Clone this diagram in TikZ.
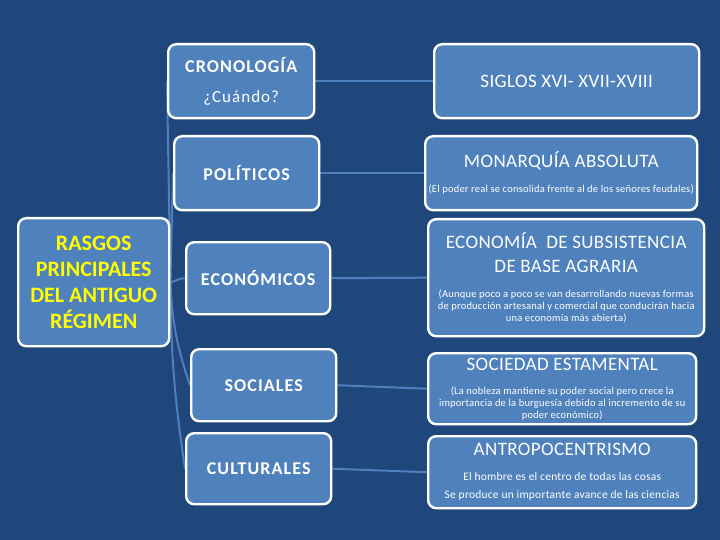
\documentclass[tikz,border=0pt]{standalone}
\usepackage{fontspec}
\setmainfont{Carlito}
\newfontfamily\midf[LetterSpace=6]{Carlito}
\newfontfamily\ttlf[LetterSpace=2]{Carlito}
\newfontfamily\subf[LetterSpace=2]{Carlito}
\usetikzlibrary{backgrounds}
\definecolor{bgc}{HTML}{1F477B}
\definecolor{boxfill}{HTML}{4F81BD}
\definecolor{linkc}{HTML}{4F7FBD}
\definecolor{ylw}{HTML}{FFFF00}
\tikzset{
  card/.style={draw=white, line width=2.4pt, fill=boxfill, rounded corners=8pt,
    anchor=north west, inner sep=0pt, text=white, align=center,
    font=\fontsize{10.5}{12}\selectfont},
  linkline/.style={draw=linkc, line width=2pt},
  midtxt/.style={font=\midf\bfseries\fontsize{18}{22}\selectfont},
  ttl/.style={font=\ttlf\fontsize{19}{23}\selectfont}
}
\newcommand{\ttlline}{\ttlf\fontsize{19}{12}\selectfont}
\newcommand{\subline}{\subf\fontsize{10.5}{12}\selectfont}
\begin{document}
\begin{tikzpicture}[x=1pt,y=-1pt]
\useasboundingbox (0,0) rectangle (720,540);
% left node
\node[card, minimum width=151pt, minimum height=128pt, text=ylw,
  font=\bfseries\fontsize{22}{26}\selectfont] (rasgos) at (17,217)
  {RASGOS\\PRINCIPALES\\DEL ANTIGUO\\RÉGIMEN};
% middle column
\node[card, minimum width=146pt, minimum height=74pt] (crono) at (167,43)
  {\midf\bfseries\fontsize{18}{12}\selectfont CRONOLOGÍA\\[18pt]
   \midf\fontsize{17}{12}\selectfont ¿Cuándo?};
\node[card, midtxt, minimum width=145pt, minimum height=74pt] (pol) at (173,135) {POLÍTICOS};
\node[card, midtxt, minimum width=144pt, minimum height=72pt] (eco) at (185,241) {ECONÓMICOS};
\node[card, midtxt, minimum width=145pt, minimum height=72pt] (soc) at (190,348) {SOCIALES};
\node[card, midtxt, minimum width=145pt, minimum height=71pt] (cul) at (185,432) {CULTURALES};
% right column
\node[card, ttl, minimum width=265pt, minimum height=74pt] (siglos) at (433,43)
  {SIGLOS XVI- XVII-XVIII};
\node[card, minimum width=272pt, minimum height=74pt] (mon) at (424,135)
  {\ttlline MONARQUÍA ABSOLUTA\\[13pt]
   \subline (El poder real se consolida frente al de los señores feudales)};
\node[card, minimum width=276pt, minimum height=117pt] (economia) at (427,218)
  {\ttlline ECONOMÍA \ DE SUBSISTENCIA\\[11pt]
   \ttlline DE BASE AGRARIA\\[13pt]
   \subline (Aunque poco a poco se van desarrollando nuevas formas\\
   \subline de producción artesanal y comercial que conducirán hacia\\
   \subline una economía más abierta)};
\node[card, minimum width=268pt, minimum height=71pt] (sociedad) at (427,352)
  {\ttlline SOCIEDAD ESTAMENTAL\\[12pt]
   \subline (La nobleza mantiene su poder social pero crece la\\
   \subline importancia de la burguesía debido al incremento de su\\
   \subline poder económico)};
\node[card, minimum width=268pt, minimum height=72pt] (antro) at (427,435)
  {\ttlline ANTROPOCENTRISMO\\[13pt]
   \subf\fontsize{11.5}{12}\selectfont El hombre es el centro de todas las cosas\\[6pt]
   \subf\fontsize{11.5}{12}\selectfont Se produce un importante avance de las ciencias};
\begin{scope}[on background layer]
  \fill[bgc] (0,0) rectangle (720,540);
  \draw[linkline] (rasgos.east) -- (crono.west);
  \draw[linkline] (rasgos.east) -- (pol.west);
  \draw[linkline] (rasgos.east) to[out=10,in=180] (eco.west);
  \draw[linkline] (rasgos.east) to[bend right=8] (soc.west);
  \draw[linkline] (rasgos.east) to[bend right=4] (cul.west);
  \draw[linkline] (crono.east) -- (siglos.west);
  \draw[linkline] (pol.east) -- (mon.west);
  \draw[linkline] (eco.east) -- (economia.west);
  \draw[linkline] (soc.east) -- (sociedad.west);
  \draw[linkline] (cul.east) -- (antro.west);
\end{scope}
\end{tikzpicture}
\end{document}
